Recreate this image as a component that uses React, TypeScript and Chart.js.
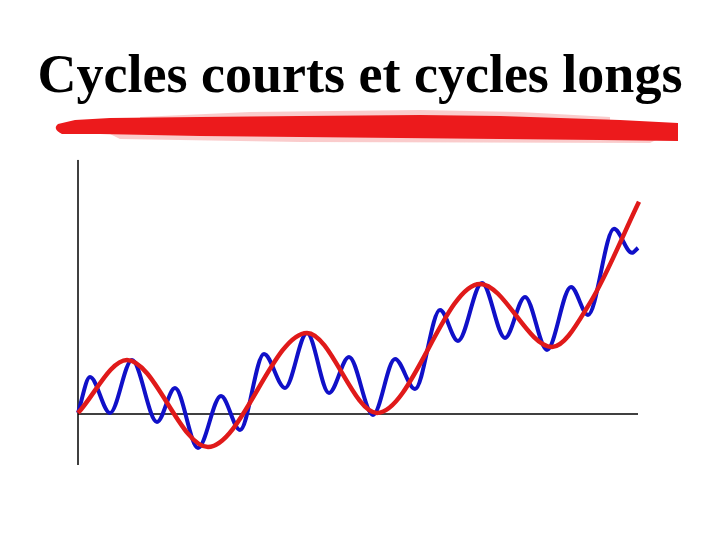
import React, { useEffect, useRef } from "react";
import { Chart, registerables } from "chart.js";

Chart.register(...registerables);

const TITLE = "Cycles courts et cycles longs";

// time (x) and level (y) of the short cycles (blue), read at turning points
const shortX = [0, 12, 32, 54, 79, 97, 120, 143, 162, 186, 207, 229, 251, 271, 295, 317, 337, 362, 380, 404, 427, 447, 469, 493, 510, 536, 554, 560];
const shortY = [1, 37, 1, 54, -8, 26, -34, 18, -16, 60, 26, 81, 21, 57, -1, 55, 25, 104, 73, 131, 76, 117, 64, 127, 99, 185, 161, 166];

// long cycle (red)
const longX = [0, 49, 130, 229, 299, 402, 474, 512, 561];
const longY = [1, 54, -33, 81, 1, 130, 67, 111, 212];

// axes extents
const axisXRange = [0, 560];
const axisYRange = [-51, 254];

const brushPlugin = {
  id: "brush",
  beforeDatasetsDraw(chart: any) {
    const ctx = chart.ctx;
    ctx.save();
    // light textured fringe
    ctx.fillStyle = "rgba(240,110,110,0.35)";
    ctx.beginPath();
    ctx.moveTo(140, 117);
    ctx.lineTo(250, 112);
    ctx.lineTo(420, 110);
    ctx.lineTo(520, 112);
    ctx.lineTo(610, 117);
    ctx.lineTo(610, 124);
    ctx.lineTo(140, 124);
    ctx.closePath();
    ctx.fill();
    ctx.beginPath();
    ctx.moveTo(110, 134);
    ctx.lineTo(660, 138);
    ctx.lineTo(650, 143);
    ctx.lineTo(300, 142);
    ctx.lineTo(120, 139);
    ctx.closePath();
    ctx.fill();
    // main stroke
    ctx.fillStyle = "rgb(236,26,28)";
    ctx.beginPath();
    ctx.moveTo(58, 124);
    ctx.lineTo(75, 120);
    ctx.lineTo(110, 118);
    ctx.lineTo(200, 117);
    ctx.lineTo(300, 116);
    ctx.lineTo(420, 115);
    ctx.lineTo(500, 116);
    ctx.lineTo(560, 118);
    ctx.lineTo(620, 120);
    ctx.lineTo(678, 123);
    ctx.lineTo(678, 141);
    ctx.lineTo(600, 140);
    ctx.lineTo(500, 139);
    ctx.lineTo(400, 138);
    ctx.lineTo(300, 137);
    ctx.lineTo(200, 136);
    ctx.lineTo(100, 134);
    ctx.lineTo(62, 134);
    ctx.quadraticCurveTo(52, 129, 58, 124);
    ctx.closePath();
    ctx.fill();
    ctx.restore();
  },
};

export default function App() {
  const ref = useRef<HTMLCanvasElement>(null);
  useEffect(() => {
    if (!ref.current) return;
    const shortData = shortX.map((x, i) => ({ x, y: shortY[i] }));
    const longData = longX.map((x, i) => ({ x, y: longY[i] }));
    const chart = new Chart(ref.current, {
      type: "line",
      data: {
        datasets: [
          {
            label: "Cycle long",
            data: longData,
            borderColor: "#e01a1a",
            borderWidth: 4.5,
            pointRadius: 0,
            cubicInterpolationMode: "monotone",
            order: 0,
          },
          {
            label: "Cycle court",
            data: shortData,
            borderColor: "#1010c8",
            borderWidth: 4,
            pointRadius: 0,
            cubicInterpolationMode: "monotone",
            order: 1,
          },
          {
            label: "axe x",
            data: [
              { x: axisXRange[0], y: 0 },
              { x: axisXRange[1], y: 0 },
            ],
            borderColor: "#000",
            borderWidth: 1.5,
            pointRadius: 0,
            order: 2,
          },
          {
            label: "axe y",
            data: [
              { x: 0, y: axisYRange[0] },
              { x: 0, y: axisYRange[1] },
            ],
            borderColor: "#000",
            borderWidth: 1.5,
            pointRadius: 0,
            order: 2,
          },
        ],
      },
      options: {
        animation: false,
        responsive: false,
        layout: { padding: { left: 0, right: 0, top: 0, bottom: 75 } },
        scales: {
          x: { type: "linear", display: false, min: -78, max: 642 },
          y: { type: "linear", display: false, min: axisYRange[0], max: axisYRange[1] },
        },
        plugins: {
          legend: { display: false },
          tooltip: { enabled: false },
          title: {
            display: true,
            text: TITLE,
            color: "#000",
            font: { family: "'Liberation Serif', 'Times New Roman', serif", size: 54, weight: "bold", lineHeight: 1.2 },
            padding: { top: 46, bottom: 49 },
          },
        },
      },
      plugins: [brushPlugin],
    });
    return () => chart.destroy();
  }, []);
  return (
    <div style={{ position: "fixed", left: 0, top: 0, width: 720, height: 540, background: "#fff" }}>
      <canvas ref={ref} width={720} height={540} />
    </div>
  );
}
